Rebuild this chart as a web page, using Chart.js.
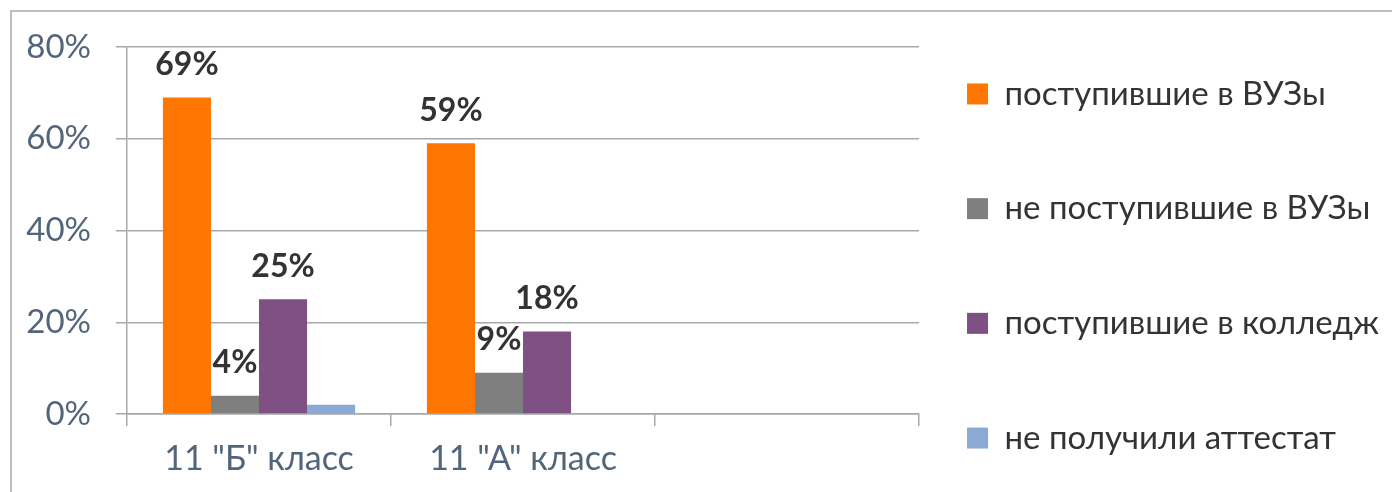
<!DOCTYPE html>
<html>
<head>
<meta charset="utf-8">
<script src="https://cdn.jsdelivr.net/npm/chart.js@4.4.1/dist/chart.umd.min.js"></script>
<style>
  html, body { margin: 0; padding: 0; background: #fff; }
</style>
</head>
<body>
<canvas id="chart" width="1392" height="492"></canvas>
<script>
const categories = ['11 "Б" класс', '11 "А" класс', ''];
const seriesNames = ['поступившие в ВУЗы', 'не поступившие в ВУЗы', 'поступившие в колледж', 'не получили аттестат'];
const vuz = [69, 59, null];
const noVuz = [4, 9, null];
const college = [25, 18, null];
const noCert = [2, 0, null];
const seriesColors = ['#ff7600', '#7f7f7f', '#7e5083', '#8aaad4'];
const showLabels = [true, true, true, false];
const yTicks = [0, 20, 40, 60, 80];

const family = 'Lato, "Noto Sans", sans-serif';
const axisColor = '#a5a9ae';
const tickColor = '#53657a';
const textColor = '#333333';

// подписи значений над столбцами
const valueLabels = {
  id: 'valueLabels',
  afterDatasetsDraw(chart) {
    const ctx = chart.ctx;
    ctx.save();
    ctx.font = 'bold 32px ' + family;
    ctx.fillStyle = textColor;
    ctx.textAlign = 'center';
    ctx.textBaseline = 'middle';
    chart.data.datasets.forEach((ds, i) => {
      if (!showLabels[i]) return;
      chart.getDatasetMeta(i).data.forEach((bar, j) => {
        const v = ds.data[j];
        if (v == null) return;
        ctx.fillText(v + '%', bar.x, bar.y - 33);
      });
    });
    ctx.restore();
  }
};

// рамка вокруг диаграммы
const frame = {
  id: 'frame',
  beforeDraw(chart) {
    const ctx = chart.ctx;
    ctx.save();
    ctx.strokeStyle = axisColor;
    ctx.lineWidth = 1.5;
    ctx.strokeRect(11, 11, chart.width + 50, chart.height + 50);
    ctx.restore();
  }
};

const datasets = [vuz, noVuz, college, noCert].map((values, i) => ({
  label: seriesNames[i],
  data: values,
  backgroundColor: seriesColors[i],
  xAxisID: 'x',
  yAxisID: 'y',
  categoryPercentage: 0.728,
  barPercentage: 1
}));

new Chart(document.getElementById('chart'), {
  type: 'bar',
  data: { labels: categories, datasets: datasets },
  plugins: [frame, valueLabels],
  options: {
    responsive: false,
    animation: false,
    layout: { padding: { left: 0, right: 3, top: 0, bottom: 0 } },
    scales: {
      x: {
        grid: { drawOnChartArea: false, drawTicks: true, tickLength: 12, color: axisColor, lineWidth: 1.5 },
        border: { display: true, color: axisColor, width: 1.5 },
        ticks: { color: tickColor, font: { family: family, size: 34 }, padding: 13 },
        afterFit: s => { s.height = 78; }
      },
      y: {
        min: 0,
        max: 80,
        afterBuildTicks: s => { s.ticks = yTicks.map(v => ({ value: v })); },
        ticks: { callback: v => v + '%', color: tickColor, font: { family: family, size: 33 }, padding: 25 },
        grid: { color: axisColor, lineWidth: 1.5, tickLength: 11 },
        border: { display: true, color: axisColor, width: 1.5 },
        afterFit: s => { s.width = 127; }
      },
      xPad: {
        type: 'linear', position: 'top', display: true,
        grid: { display: false }, border: { display: false }, ticks: { display: false },
        afterFit: s => { s.height = 47; }
      },
      yPad: {
        type: 'linear', position: 'right', display: true,
        grid: { display: false }, border: { display: false }, ticks: { display: false },
        afterFit: s => { s.width = 28; }
      }
    },
    plugins: {
      tooltip: { enabled: false },
      legend: {
        position: 'right',
        align: 'center',
        maxWidth: 460,
        title: { display: true, text: '', padding: 0, font: { size: 40, lineHeight: 1 } },
        labels: {
          boxWidth: 21,
          boxHeight: 21,
          padding: 20,
          color: textColor,
          font: { family: family, size: 33, lineHeight: '94.7px' },
          generateLabels: chart => chart.data.datasets.map((ds, i) => ({
            text: i < chart.data.datasets.length - 1 ? [ds.label] : ds.label,
            fillStyle: ds.backgroundColor,
            strokeStyle: ds.backgroundColor,
            lineWidth: 0,
            fontColor: textColor,
            hidden: false,
            datasetIndex: i
          }))
        }
      }
    }
  }
});
</script>
</body>
</html>
